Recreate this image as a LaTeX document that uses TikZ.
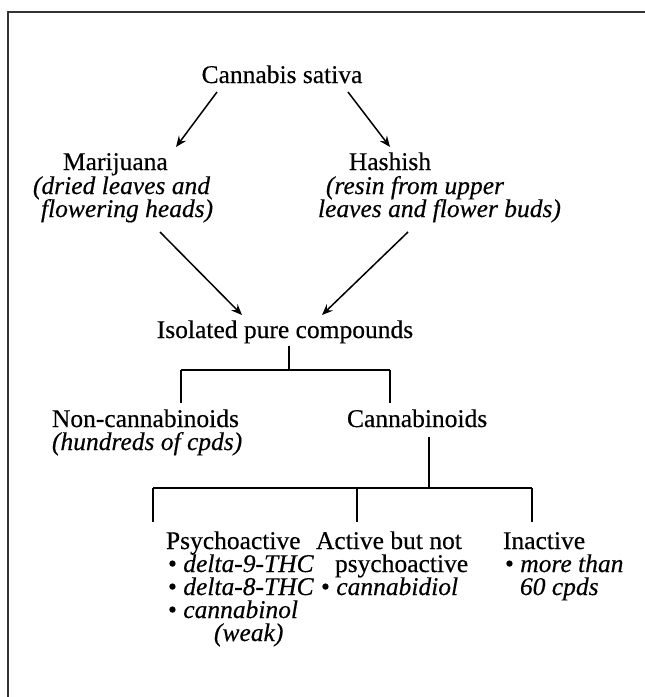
\documentclass[tikz,border=0pt]{standalone}
\usepackage{fontspec}
\setmainfont{Liberation Serif}[FakeBold=0.4]
\usetikzlibrary{arrows.meta}
\begin{document}
\begin{tikzpicture}[x=1pt,y=-1pt,
  txt/.style={inner sep=0pt, outer sep=0pt, anchor=base west, font=\fontsize{25.5}{24}\selectfont},
  itx/.style={txt, font=\fontsize{25.5}{24}\selectfont\itshape},
  ctr/.style={txt, anchor=base},
  arr/.style={line width=1.5pt, -{Stealth[length=11pt,width=9pt,inset=4pt]}},
  tree/.style={line width=1.2pt},
  frame/.style={line width=1.6pt, draw=black!80}]
\useasboundingbox (0,0) rectangle (645,697);
\draw[frame] (8,697) -- (8,12) -- (645,12);

\node[ctr] (cs) at (282,83) {Cannabis sativa};
\node[txt] (mj) at (63,170) {Marijuana};
\node[itx] (mj1) at (33,194) {(dried leaves and};
\node[itx] (mj2) at (41,217) {flowering heads)};
\node[ctr] (hs) at (390,170) {Hashish};
\node[itx] (hs1) at (326,194) {(resin from upper};
\node[itx] (hs2) at (318,217) {leaves and flower buds)};
\node[ctr] (ipc) at (285,338) {Isolated pure compounds};
\node[txt] (nc) at (52,427) {Non-cannabinoids};
\node[itx] (nc1) at (52,450) {(hundreds of cpds)};
\node[txt] (cb) at (347,427) {Cannabinoids};
\node[txt] (ps) at (166,549) {Psychoactive};
\node[txt] (ps1) at (168,572) {•\ \textit{delta-9-THC}};
\node[txt] (ps2) at (168,595) {•\ \textit{delta-8-THC}};
\node[txt] (ps3) at (168,618) {•\ \textit{cannabinol}};
\node[itx] (ps4) at (214,641) {(weak)};
\node[txt] (ab) at (316,549) {Active but not};
\node[txt] (ab1) at (335,572) {psychoactive};
\node[txt] (ab2) at (321,595) {•\ \textit{cannabidiol}};
\node[txt] (in) at (503,549) {Inactive};
\node[txt] (in1) at (505,572) {•\ \textit{more than}};
\node[itx] (in2) at (520,595) {60 cpds};

% arrow end points
\coordinate (csL) at (217,92);
\coordinate (csR) at (348,92);
\coordinate (mjT) at (176,147);
\coordinate (hsT) at (390,147);
\coordinate (mjB) at (160,232);
\coordinate (hsB) at (408,232);
\coordinate (ipL) at (242,315);
\coordinate (ipR) at (322,315);
\draw[arr] (csL) -- (mjT);
\draw[arr] (csR) -- (hsT);
\draw[arr] (mjB) -- (ipL);
\draw[arr] (hsB) -- (ipR);

% tree 1
\coordinate (ipS) at (289,346);
\coordinate (j1) at (289,370);
\coordinate (j1L) at (181,370);
\coordinate (j1R) at (390,370);
\coordinate (ncT) at (181,403);
\coordinate (cbT) at (390,403);
\draw[tree] (ipS) -- (j1);
\draw[tree] (j1L) -- (j1R);
\draw[tree] (j1L) -- (ncT);
\draw[tree] (j1R) -- (cbT);

% tree 2
\coordinate (cbS) at (429,437);
\coordinate (j2) at (429,488);
\coordinate (j2L) at (153,488);
\coordinate (j2M) at (357,488);
\coordinate (j2R) at (532,488);
\coordinate (psT) at (153,522);
\coordinate (abT) at (357,522);
\coordinate (inT) at (532,522);
\draw[tree] (cbS) -- (j2);
\draw[tree] (j2L) -- (j2R);
\draw[tree] (j2L) -- (psT);
\draw[tree] (j2M) -- (abT);
\draw[tree] (j2R) -- (inT);
\end{tikzpicture}
\end{document}
